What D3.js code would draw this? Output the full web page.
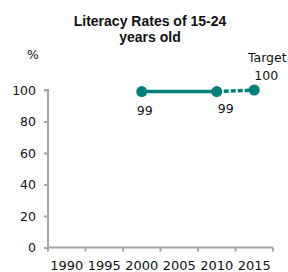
<!DOCTYPE html>
<html>
<head>
<meta charset="utf-8">
<script src="https://cdn.jsdelivr.net/npm/d3@7"></script>
<style>
  body { margin: 0; background: #fff; }
  svg { display: block; }
</style>
</head>
<body>
<svg id="chart" width="288" height="272"></svg>
<script>
// data
const years = ['1990', '1995', '2000', '2005', '2010', '2015'];
const actualYears = ['2000', '2010'];
const actualValues = [99, 99];
const targetYear = '2015';
const targetValue = 100;
const yTicks = [0, 20, 40, 60, 80, 100];

const teal = '#007f7b';
const axisGrey = '#a6a6a6';

let svg = d3.select('#chart');

let x = d3.scaleBand().domain(years).range([48, 273]).padding(0);
let y = d3.scaleLinear().domain([0, 100]).range([247.5, 90]);
let cx = (yr) => x(yr) + x.bandwidth() / 2;

// title
svg.append('text')
  .attr('x', 150).attr('y', 26)
  .attr('text-anchor', 'middle')
  .style('font-family', 'Liberation Sans Narrow, Arial Narrow, sans-serif')
  .style('font-weight', 'bold')
  .style('font-size', '14px')
  .attr('fill', '#111')
  .selectAll('tspan')
  .data(['Literacy Rates of 15-24', 'years old'])
  .join('tspan')
  .attr('x', 150)
  .attr('dy', (d, i) => i ? 16 : 0)
  .text(d => d);

// unit label
svg.append('text')
  .attr('x', 33).attr('y', 59)
  .attr('text-anchor', 'middle')
  .style('font-family', 'DejaVu Sans, sans-serif')
  .style('font-size', '12.5px')
  .attr('fill', '#111')
  .text('%');

// y axis
let yAxis = d3.axisLeft(y).tickValues(yTicks).tickSize(4).tickPadding(8);
let gy = svg.append('g').attr('transform', 'translate(48,0)').call(yAxis);
gy.select('.domain').attr('stroke', axisGrey).attr('stroke-width', 2)
  .attr('d', `M-4,${y(100)}H0V${y(0)}`);
gy.selectAll('.tick line').attr('stroke', axisGrey).attr('stroke-width', 2);
gy.selectAll('.tick text')
  .style('font-family', 'DejaVu Sans, sans-serif')
  .style('font-size', '12.5px')
  .attr('fill', '#111');

// x axis (category labels between boundary ticks)
let xAxis = d3.axisBottom(x).tickSize(0).tickPadding(13);
let gx = svg.append('g').attr('transform', `translate(0,${y(0)})`).call(xAxis);
gx.select('.domain').attr('stroke', axisGrey).attr('stroke-width', 2)
  .attr('d', `M${x.range()[0]},0H${x.range()[1]}`);
gx.selectAll('.tick text')
  .style('font-family', 'DejaVu Sans, sans-serif')
  .style('font-size', '13px')
  .attr('fill', '#111');
let bounds = years.map(d => x(d)).concat([x.range()[1]]);
gx.selectAll('line.bound')
  .data(bounds)
  .join('line')
  .attr('class', 'bound')
  .attr('x1', d => d).attr('x2', d => d)
  .attr('y1', 0).attr('y2', 4)
  .attr('stroke', axisGrey).attr('stroke-width', 2);

// lines
let actual = actualYears.map((yr, i) => ({ year: yr, value: actualValues[i] }));
let target = { year: targetYear, value: targetValue };

let line = d3.line().x(d => cx(d.year)).y(d => y(d.value));

svg.append('path')
  .datum(actual)
  .attr('fill', 'none')
  .attr('stroke', teal)
  .attr('stroke-width', 3.5)
  .attr('d', line);

svg.append('path')
  .datum([actual[actual.length - 1], target])
  .attr('fill', 'none')
  .attr('stroke', teal)
  .attr('stroke-width', 3.5)
  .attr('stroke-dasharray', '5,2')
  .attr('d', line);

svg.selectAll('circle.pt')
  .data(actual.concat([target]))
  .join('circle')
  .attr('class', 'pt')
  .attr('cx', d => cx(d.year))
  .attr('cy', d => y(d.value))
  .attr('r', 5.5)
  .attr('fill', teal);

// value labels
let labelFont = (sel) => sel
  .style('font-family', 'DejaVu Sans, sans-serif')
  .style('font-size', '12.5px')
  .attr('fill', '#111')
  .attr('text-anchor', 'middle');

svg.selectAll('text.val')
  .data(actual)
  .join('text')
  .attr('class', 'val')
  .attr('x', (d, i) => cx(d.year) + (i ? 9 : 3))
  .attr('y', (d, i) => y(d.value) + (i ? 21 : 23))
  .call(labelFont)
  .text(d => d.value);

svg.append('text')
  .attr('x', cx(target.year) + 13)
  .attr('y', y(target.value) - 28)
  .call(labelFont)
  .text('Target');

svg.append('text')
  .attr('x', cx(target.year) + 12)
  .attr('y', y(target.value) - 10)
  .call(labelFont)
  .text(target.value);
</script>
</body>
</html>
